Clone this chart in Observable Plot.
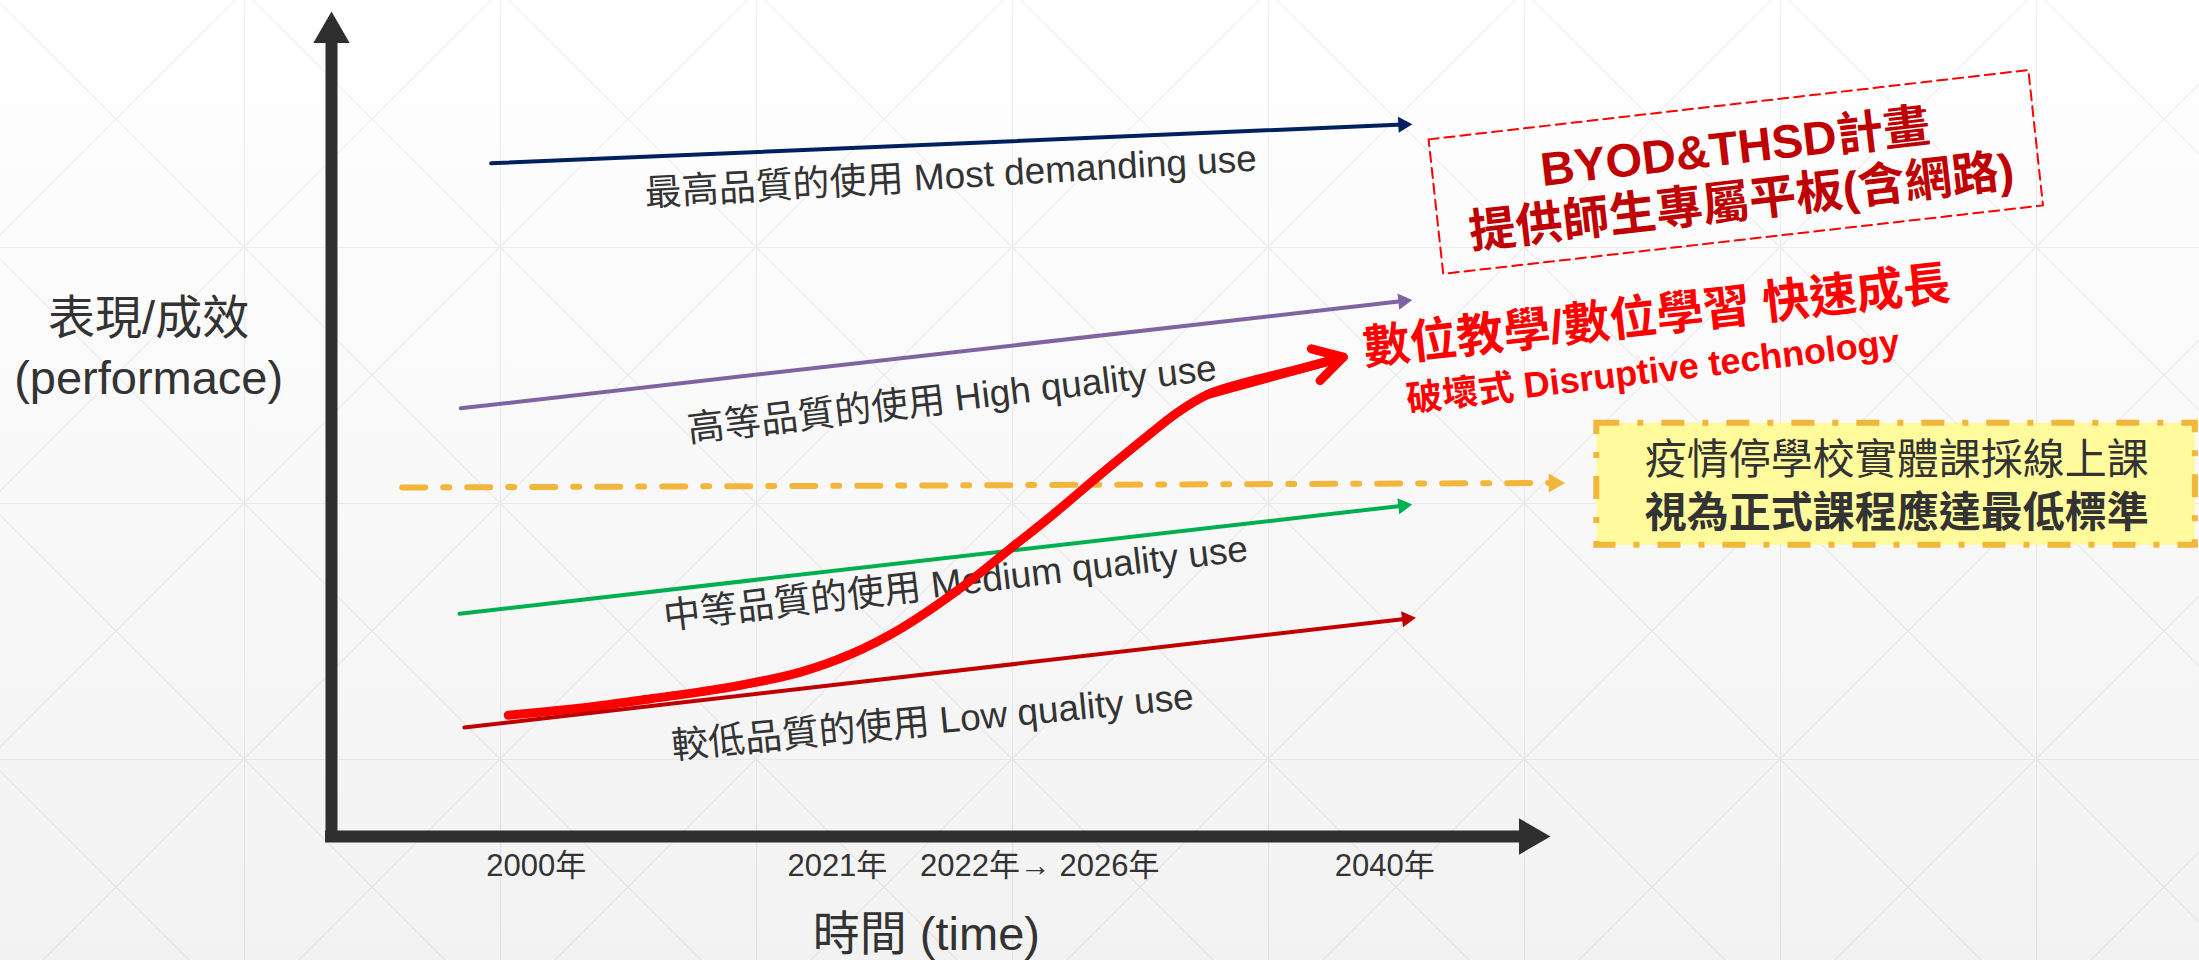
<!DOCTYPE html>
<html>
<head>
<meta charset="utf-8">
<script src="https://cdn.jsdelivr.net/npm/d3@7"></script>
<script src="https://cdn.jsdelivr.net/npm/@observablehq/plot@0.6"></script>
<style>
  html, body { margin: 0; padding: 0; }
  body { width: 2199px; height: 960px; overflow: hidden; background-color: #fafafa; }
  #chart svg { display: block; }
</style>
</head>
<body>
<div id="chart"></div>
<script>
// ---------------- data ----------------
// x: abstract time index (0 = vertical axis, 100 = tip of the time arrow)
// y: abstract performance (0 = time axis, 100 = tip of the performance arrow)
const tickPos = [16.8, 41.5, 58.1, 86.4];
const tickLabels = ["2000年", "2021年", "2022年→ 2026年", "2040年"];

const useNames = [
  "最高品質的使用 Most demanding use",
  "高等品質的使用 High quality use",
  "中等品質的使用 Medium quality use",
  "較低品質的使用 Low quality use"
];
const useX0 = [13.1, 10.6, 10.5, 10.9];
const useY0 = [81.6, 51.9, 27.0, 13.2];
const useX1 = [87.9, 87.9, 87.9, 88.2];
const useY1 = [86.3, 64.9, 40.1, 26.4];

// disruptive technology curve
const redX = [14.5, 20.7, 26.2, 32.7, 38.4, 42.6, 46.7, 51.6, 55.6, 59.0, 63.1, 66.4, 69.4, 71.9, 75.4, 79.5, 83.0];
const redY = [14.7, 15.6, 16.7, 18.1, 19.9, 22.1, 25.2, 30.1, 34.8, 38.8, 43.9, 47.9, 51.4, 53.6, 55.2, 56.7, 58.1];

// minimum standard (dash-dot) line
const floorX = [5.8, 100.3];
const floorY = [42.3, 42.85];

// annotation texts
const yTitle = "表現/成效\n(performace)";
const xTitle = "時間 (time)";
const disruptTitle = "數位教學/數位學習 快速成長";
const disruptSub = "破壞式 Disruptive technology";
const byodText = "BYOD&THSD計畫\n提供師生專屬平板(含網路)";
const floorLine1 = "疫情停學校實體課採線上課";
const floorLine2 = "視為正式課程應達最低標準";

// ---------------- layout / style ----------------
const W = 2199, H = 960, mL = 331, mR = 649, mT = 11, mB = 124;
const kx = (W - mL - mR) / 100, ky = (H - mT - mB) / 100;
const ink = "#333333", axisInk = "#2f2f2f", orange = "#f2b63a";
const useColors = ["#002060", "#8064a2", "#00b050", "#c00000"];
const font = "'Liberation Sans', Arial, 'Noto Sans CJK TC', sans-serif";
const dashDot = "23,18,6,18";

const useLabelX = [50.8, 50.9, 51.2, 49.3];
const useLabelY = [80.0, 53.0, 30.7, 13.9];
const useLabelAngle = [-3.3, -6.7, -6.7, -5.5];

const byodX = [90.0, 139.2, 140.4, 91.2, 90.0];
const byodY = [84.5, 92.9, 76.5, 68.2, 84.5];
const boxX = [103.8, 152.9];
const boxY = [35.3, 50.1];

function screenAngle(x0, y0, x1, y1) {
  return Math.atan2(-(y1 - y0) * ky, (x1 - x0) * kx) * 180 / Math.PI;
}

// background
const tile = "<svg xmlns='http://www.w3.org/2000/svg' width='256' height='256'><path d='M0.5 0V256M0 0.5H256M0 0L256 256M256 0L0 256' stroke='rgb(0,0,0)' stroke-opacity='0.06' stroke-width='1.2' fill='none'/></svg>";
document.body.style.background =
  `url("data:image/svg+xml,${encodeURIComponent(tile)}") 244px 247px / 256px 256px repeat, linear-gradient(#ffffff, #f2f2f2)`;

// ---------------- marks ----------------
const idx = d3.range(useNames.length);
const tickMap = new Map(tickPos.map((p, i) => [p, tickLabels[i]]));
const headR = 13.5, headOff = 1.555 * headR;
const redPts = redX.map((x, i) => ({x, y: redY[i]}));
const n = redPts.length;

const marks = [];

// yellow box + orange minimum line
marks.push(Plot.rect([{x1: boxX[0], x2: boxX[1], y1: boxY[0], y2: boxY[1]}],
  {x1: "x1", x2: "x2", y1: "y1", y2: "y2", fill: "#fffb9d", stroke: orange, strokeWidth: 6, strokeDasharray: dashDot}));
marks.push(Plot.line(floorX.map((x, i) => ({x, y: floorY[i]})),
  {x: "x", y: "y", stroke: orange, strokeWidth: 6, strokeDasharray: dashDot}));
marks.push(Plot.dot([{x: floorX[1], y: floorY[1]}],
  {x: "x", y: "y", symbol: "triangle", r: 7, fill: orange, stroke: null,
   rotate: 90 + screenAngle(floorX[0], floorY[0], floorX[1], floorY[1])}));

// BYOD dashed box
marks.push(Plot.line(byodX.map((x, i) => ({x, y: byodY[i]})),
  {x: "x", y: "y", stroke: "#ff0000", strokeWidth: 2, strokeDasharray: "10,6"}));

// quality lines except low (drawn after red curve)
for (const i of idx) {
  if (i === 3) continue;
  marks.push(Plot.line([{x: useX0[i], y: useY0[i]}, {x: useX1[i], y: useY1[i]}],
    {x: "x", y: "y", stroke: useColors[i], strokeWidth: 4}));
  marks.push(Plot.dot([{x: useX1[i], y: useY1[i]}],
    {x: "x", y: "y", symbol: "triangle", r: 6, fill: useColors[i], stroke: null,
     rotate: 90 + screenAngle(useX0[i], useY0[i], useX1[i], useY1[i])}));
}

// quality labels
marks.push(Plot.text(idx, {
  x: i => useLabelX[i], y: i => useLabelY[i], text: i => useNames[i],
  rotate: i => useLabelAngle[i], fontSize: 37, fontFamily: font, fill: ink,
  textAnchor: "middle", lineAnchor: "middle"
}));

// disruptive curve
marks.push(Plot.line(redPts, {x: "x", y: "y", curve: "catmull-rom", stroke: "#ff0000", strokeWidth: 9}));
marks.push(Plot.arrow([{x1: redPts[n - 4].x, y1: redPts[n - 4].y, x2: redPts[n - 1].x, y2: redPts[n - 1].y}],
  {x1: "x1", y1: "y1", x2: "x2", y2: "y2", stroke: "#ff0000", strokeWidth: 9,
   headLength: 5.5, headAngle: 60, strokeLinecap: "round", strokeLinejoin: "round"}));

// low quality line on top
{
  const i = 3;
  marks.push(Plot.line([{x: useX0[i], y: useY0[i]}, {x: useX1[i], y: useY1[i]}],
    {x: "x", y: "y", stroke: useColors[i], strokeWidth: 4}));
  marks.push(Plot.dot([{x: useX1[i], y: useY1[i]}],
    {x: "x", y: "y", symbol: "triangle", r: 6, fill: useColors[i], stroke: null,
     rotate: 90 + screenAngle(useX0[i], useY0[i], useX1[i], useY1[i])}));
}

// axes (thick arrows)
marks.push(Plot.ruleX([{x: 0, y1: -6 / ky, y2: 100 - headOff / ky}],
  {x: "x", y1: "y1", y2: "y2", stroke: axisInk, strokeWidth: 12}));
marks.push(Plot.ruleY([{y: 0, x1: -6 / kx, x2: 100 - headOff / kx}],
  {y: "y", x1: "x1", x2: "x2", stroke: axisInk, strokeWidth: 12}));
marks.push(Plot.dot([{x: 0, y: 100 - headOff / ky, a: 0}, {x: 100 - headOff / kx, y: 0, a: 90}],
  {x: "x", y: "y", symbol: "triangle", r: headR, fill: axisInk, stroke: null, rotate: "a"}));

marks.push(Plot.axisX(tickPos, {
  tickFormat: d => tickMap.get(d), tickSize: 0, tickPadding: 17,
  fontSize: 31, fontFamily: font, label: null
}));

// titles & annotations
marks.push(Plot.text([yTitle], {x: -15.0, y: 59.6, text: d => d, fontSize: 47, fontFamily: font, fill: ink, lineHeight: 1.28, textAnchor: "middle", lineAnchor: "middle"}));
marks.push(Plot.text([xTitle], {x: 48.8, y: -11.9, text: d => d, fontSize: 47, fontFamily: font, fill: ink, textAnchor: "middle", lineAnchor: "middle"}));
marks.push(Plot.text([disruptTitle], {x: 108.7, y: 63.0, text: d => d, rotate: -6.4, fontSize: 47, fontWeight: "bold", fontFamily: font, fill: "#ff0000", textAnchor: "middle", lineAnchor: "middle"}));
marks.push(Plot.text([disruptSub], {x: 108.4, y: 56.4, text: d => d, rotate: -6.8, fontSize: 36, fontWeight: "bold", fontFamily: font, fill: "#ff0000", textAnchor: "middle", lineAnchor: "middle"}));
marks.push(Plot.text([byodText], {x: 115.4, y: 80.4, text: d => d, rotate: -6.56, fontSize: 47, fontWeight: "bold", fontFamily: font, fill: "#c00000", lineHeight: 1.15, textAnchor: "middle", lineAnchor: "middle"}));
marks.push(Plot.text([floorLine1], {x: 128.4, y: 45.6, text: d => d, fontSize: 42, fontFamily: font, fill: ink, textAnchor: "middle", lineAnchor: "middle"}));
marks.push(Plot.text([floorLine2], {x: 128.4, y: 39.15, text: d => d, fontSize: 42, fontWeight: "bold", fontFamily: font, fill: ink, textAnchor: "middle", lineAnchor: "middle"}));

const chart = Plot.plot({
  width: W, height: H,
  marginLeft: mL, marginRight: mR, marginTop: mT, marginBottom: mB,
  x: {domain: [0, 100]},
  y: {domain: [0, 100], axis: null},
  style: {background: "transparent", color: ink, fontFamily: font, overflow: "visible"},
  marks
});
document.getElementById("chart").appendChild(chart);
</script>
</body>
</html>
